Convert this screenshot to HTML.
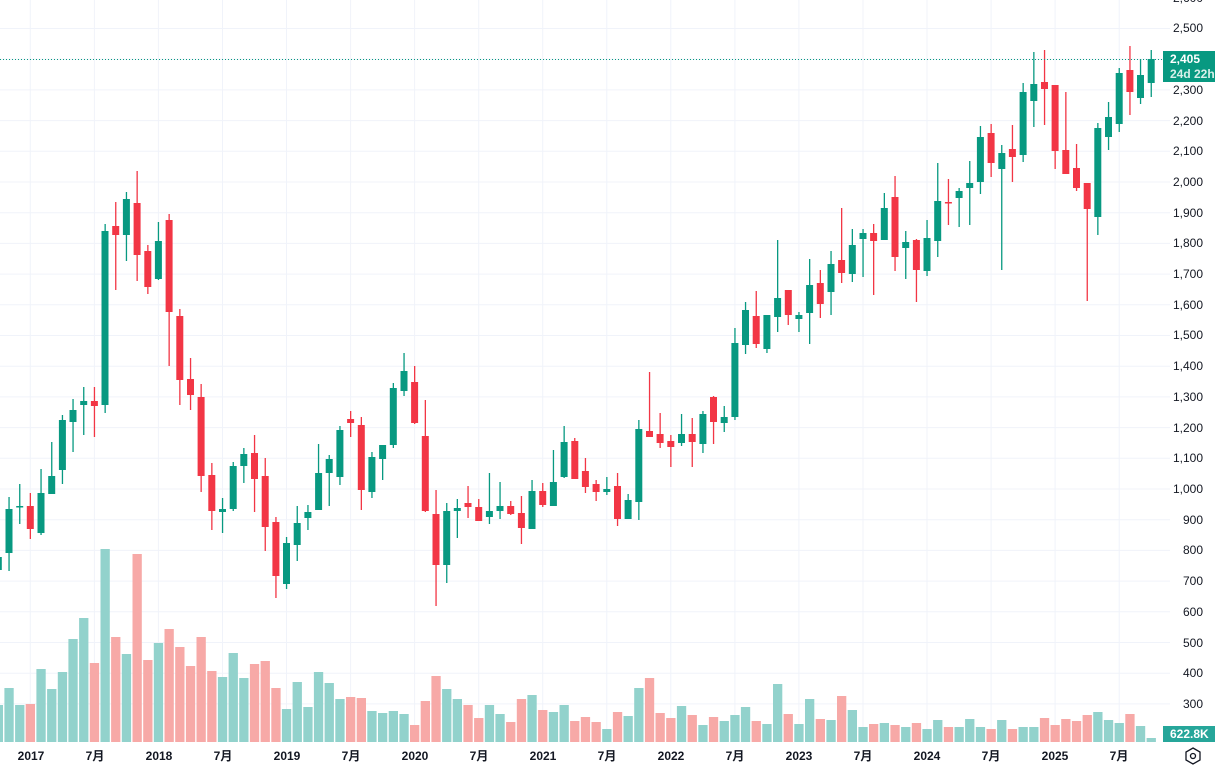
<!DOCTYPE html>
<html><head><meta charset="utf-8">
<style>
html,body{margin:0;padding:0;background:#fff;width:1215px;height:767px;overflow:hidden}
svg{display:block}
text{font-family:"Liberation Sans","Noto Sans CJK SC",sans-serif;fill:#131722;font-size:12px}
</style></head><body>
<svg id="s" width="1215" height="767" xmlns="http://www.w3.org/2000/svg">
<g id="grid"></g>
<g id="vol"></g>
<g id="cdl"></g>
<line x1="0" y1="59.5" x2="1163" y2="59.5" stroke="#089981" stroke-width="1" stroke-dasharray="1,2"/>
<g text-anchor="end">
<text x="1203" y="2">2,600</text>
<text x="1203" y="32">2,500</text>
<text x="1203" y="94">2,300</text>
<text x="1203" y="125">2,200</text>
<text x="1203" y="155">2,100</text>
<text x="1203" y="186">2,000</text>
<text x="1203" y="217">1,900</text>
<text x="1203" y="247">1,800</text>
<text x="1203" y="278">1,700</text>
<text x="1203" y="309">1,600</text>
<text x="1203" y="339">1,500</text>
<text x="1203" y="370">1,400</text>
<text x="1203" y="401">1,300</text>
<text x="1203" y="432">1,200</text>
<text x="1203" y="462">1,100</text>
<text x="1203" y="493">1,000</text>
<text x="1203" y="524">900</text>
<text x="1203" y="554">800</text>
<text x="1203" y="585">700</text>
<text x="1203" y="616">600</text>
<text x="1203" y="647">500</text>
<text x="1203" y="677">400</text>
<text x="1203" y="708">300</text>
</g>
<rect x="1163" y="51" width="52" height="31" fill="#089981"/>
<text x="1170" y="63" style="fill:#fff;font-weight:bold">2,405</text>
<text x="1170" y="78" style="fill:#d8f0ea;font-weight:bold">24d 22h</text>
<rect x="1163" y="726" width="52" height="16" fill="#26a69a"/>
<text x="1170" y="738" style="fill:#fff;font-weight:bold">622.8K</text>
<g text-anchor="middle" style="font-weight:bold">
<text x="31" y="760">2017</text><text x="95" y="760">7月</text>
<text x="159" y="760">2018</text><text x="223" y="760">7月</text>
<text x="287" y="760">2019</text><text x="351" y="760">7月</text>
<text x="415" y="760">2020</text><text x="479" y="760">7月</text>
<text x="543" y="760">2021</text><text x="607" y="760">7月</text>
<text x="671" y="760">2022</text><text x="735" y="760">7月</text>
<text x="799" y="760">2023</text><text x="863" y="760">7月</text>
<text x="927" y="760">2024</text><text x="991" y="760">7月</text>
<text x="1055" y="760">2025</text><text x="1119" y="760">7月</text>
</g>
<polygon points="1193,748 1200,752 1200,760 1193,764 1186,760 1186,752" fill="none" stroke="#131722" stroke-width="1.3"/>
<circle cx="1193" cy="756" r="2.5" fill="none" stroke="#131722" stroke-width="1.3"/>
</svg>
<script>
var C=[
"g 557 570 552 575","g 509 553 497 571","g 506 507 484 524","r 506 529 493 539","g 493 533 469 535","g 476 494 442 494","g 420 470 415 484","g 410 422 399 452","g 401 405 387 435","r 401 406 387 437",
"g 231 405 224 413","r 226 235 202 290","g 199 235 192 261","r 203 255 171 281","r 251 287 245 294","g 241 279 222 280","r 220 312 214 366","r 316 380 309 405","r 379 395 358 410","r 397 476 384 492",
"r 475 511 463 530","g 509 512 498 533","g 466 509 462 511","g 454 466 448 483","r 453 479 435 512","r 476 527 458 551","r 522 576 517 598","g 543 584 537 589","g 523 545 506 561","g 512 518 505 530",
"g 473 510 444 510","g 459 473 455 506","g 430 477 426 485","r 419 423 411 437","r 425 490 417 510","g 457 492 452 498","g 445 459 445 480","g 388 445 383 448","g 371 391 353 396","r 382 423 366 424",
"r 436 511 400 512","r 514 565 490 606","g 511 565 503 583","g 508 511 499 538","r 503 507 486 518","r 507 521 499 521","g 511 517 473 524","g 506 511 482 519","r 506 514 501 515","r 513 528 496 544",
"g 491 529 480 529","r 491 505 483 507","g 482 506 450 506","g 442 477 426 478","r 441 479 438 479","r 471 487 458 493","r 484 492 480 501","g 489 492 477 495","r 486 519 473 526","g 500 519 494 519",
"g 429 502 420 520","r 431 437 372 437","r 434 443 413 448","r 441 447 435 467","g 434 443 414 446","r 434 442 418 467","g 414 444 411 453","r 397 422 396 444","g 417 423 406 432","g 343 417 328 420",
"g 310 345 302 354","r 316 344 291 348","g 315 349 315 353","g 298 317 240 332","r 290 315 290 325","g 315 319 312 332","g 285 313 259 344","r 283 304 270 318","g 264 292 251 315","r 260 273 208 283",
"g 245 274 229 282","g 233 239 229 277","r 233 241 224 295","g 208 240 193 240","r 197 257 176 271","g 242 248 231 279","r 240 270 239 302","g 238 271 220 276","g 201 241 163 257","r 202 203 179 225",
"g 191 198 188 227","g 183 188 161 225","g 137 182 126 194","r 133 163 124 177","g 153 169 145 270","r 149 157 125 182","g 92 155 83 162","g 84 101 52 127","r 82 89 50 125","r 85 151 85 169",
"r 150 174 92 174","r 168 188 144 191","r 183 209 183 301","g 128 217 123 235","g 117 137 102 150","g 73 124 68 132","r 70 92 46 115","g 75 98 59 104","g 59 83 50 97"];
var V=[705,688,705,704,669,689,672,639,618,663,549,637,654,554,660,643,629,647,666,637,671,677,653,678,664,661,688,709,682,707,672,683,699,697,698,711,713,711,714,725,701,676,689,699,705,718,705,714,722,699,695,710,712,705,721,717,722,729,712,716,688,678,713,718,706,715,725,717,721,715,707,721,724,684,714,724,699,719,720,696,710,727,724,723,725,727,723,729,720,727,727,719,727,729,720,729,727,727,718,725,719,721,715,712,720,723,714,726,738];
function X(i){return -1.7+10.675*i;}
var g="",v="",c="";
for(var p=2600;p>=300;p-=100){var y=182+(2000-p)*0.307;g+='<line x1="0" x2="1170" y1="'+y.toFixed(1)+'" y2="'+y.toFixed(1)+'" stroke="#f0f3fa"/>';}
for(var i=3;i<109;i+=6){var x=X(i);g+='<line x1="'+x.toFixed(1)+'" x2="'+x.toFixed(1)+'" y1="0" y2="742" stroke="#f0f3fa"/>';}
for(var i=0;i<C.length;i++){var a=C[i].split(" "),x=X(i),col=a[0]=="g"?"#089981":"#f23645",vc=a[0]=="g"?"#92d2cc":"#f7a9a7";
var bt=+a[1],bb=+a[2],wt=+a[3],wb=+a[4];if(bb-bt<1.5)bb=bt+1.5;
c+='<rect x="'+(x-0.6).toFixed(1)+'" y="'+wt+'" width="1.3" height="'+(wb-wt)+'" fill="'+col+'"/>';
c+='<rect x="'+(x-3.5).toFixed(1)+'" y="'+bt+'" width="7" height="'+(bb-bt)+'" fill="'+col+'"/>';
v+='<rect x="'+(x-4.6).toFixed(1)+'" y="'+V[i]+'" width="9.3" height="'+(742-V[i])+'" fill="'+vc+'"/>';}
document.getElementById("grid").innerHTML=g;document.getElementById("vol").innerHTML=v;document.getElementById("cdl").innerHTML=c;
</script>
</body></html>
